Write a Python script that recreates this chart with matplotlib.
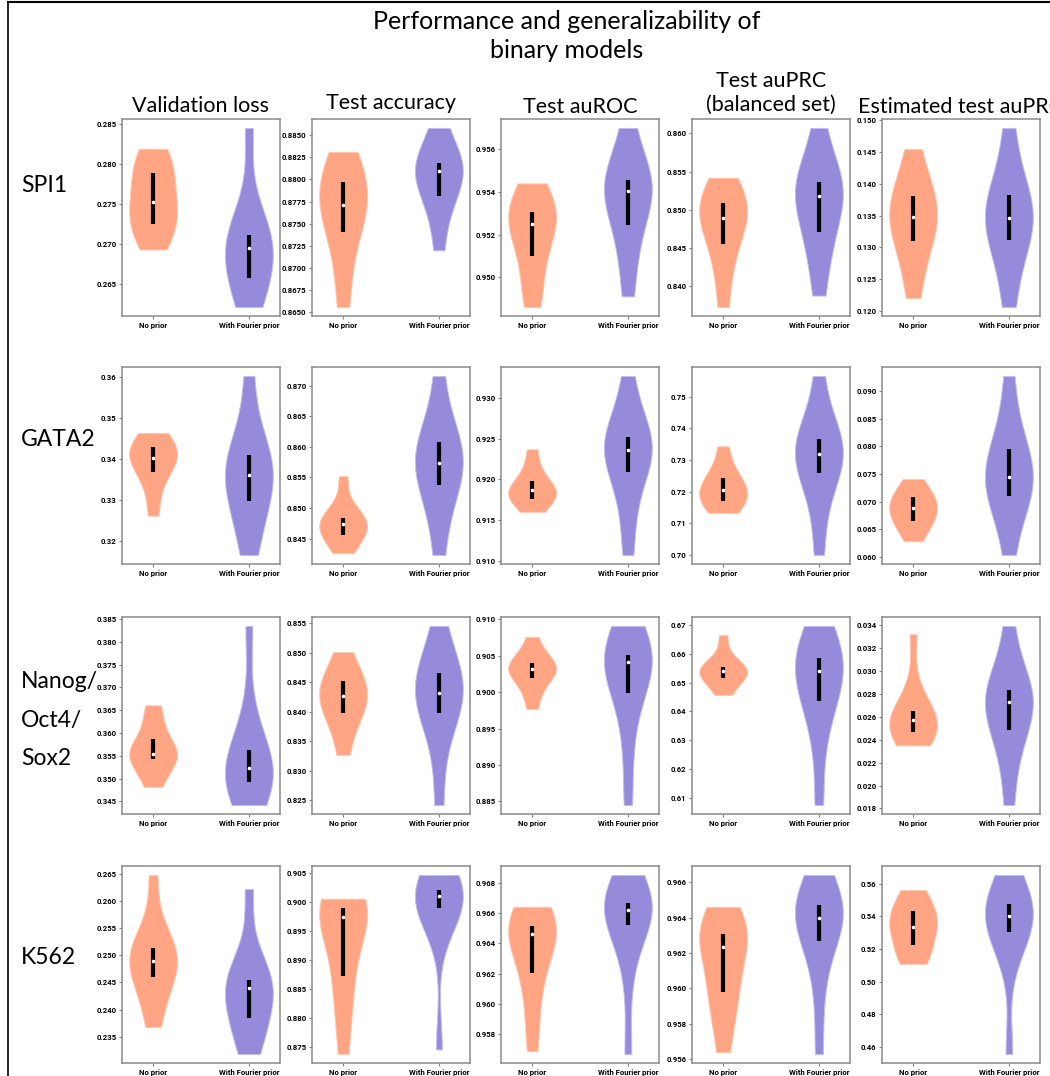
import numpy as np
import matplotlib
matplotlib.use("Agg")
import matplotlib.pyplot as plt
from matplotlib.lines import Line2D

plt.rcParams['font.family'] = ['Roboto', 'DejaVu Sans']
plt.rcParams['font.weight'] = 'bold'

# data: per panel [no prior samples, with Fourier prior samples]
groups = ['No prior', 'With Fourier prior']
metrics = ['Validation loss', 'Test accuracy', 'Test auROC',
           'Test auPRC\n(balanced set)', 'Estimated test auPRC']
datasets = ['SPI1', 'GATA2', 'Nanog/\nOct4/\nSox2', 'K562']

# SPI1
spi1_val_loss = [[0.2693, 0.2712, 0.2722, 0.2735, 0.2748, 0.2758, 0.2778, 0.2792, 0.2805, 0.2819],
                 [0.2621, 0.2638, 0.2652, 0.2675, 0.2690, 0.2700, 0.2706, 0.2713, 0.2745, 0.2845]]
spi1_test_acc = [[0.8656, 0.8700, 0.8737, 0.8753, 0.8765, 0.8778, 0.8790, 0.8800, 0.8815, 0.8831],
                 [0.8720, 0.8760, 0.8778, 0.8790, 0.8805, 0.8813, 0.8816, 0.8819, 0.8840, 0.8858]]
spi1_auroc = [[0.9486, 0.9495, 0.9508, 0.9515, 0.9523, 0.9527, 0.9530, 0.9531, 0.9538, 0.9544],
              [0.9491, 0.9510, 0.9522, 0.9532, 0.9538, 0.9543, 0.9544, 0.9546, 0.9555, 0.9570]]
spi1_auprc_bal = [[0.8373, 0.8420, 0.8450, 0.8470, 0.8485, 0.8495, 0.8505, 0.8511, 0.8525, 0.8542],
                  [0.8388, 0.8440, 0.8465, 0.8490, 0.8513, 0.8523, 0.8533, 0.8538, 0.8560, 0.8607]]
spi1_auprc_est = [[0.1220, 0.1270, 0.1305, 0.1325, 0.1340, 0.1355, 0.1370, 0.1385, 0.1410, 0.1455],
                  [0.1206, 0.1265, 0.1307, 0.1325, 0.1340, 0.1351, 0.1370, 0.1387, 0.1420, 0.1488]]

# GATA2
gata2_val_loss = [[0.3261, 0.3320, 0.3365, 0.3380, 0.3395, 0.3409, 0.3420, 0.3430, 0.3445, 0.3463],
                  [0.3165, 0.3230, 0.3292, 0.3315, 0.3350, 0.3372, 0.3395, 0.3415, 0.3470, 0.3602]]
gata2_test_acc = [[0.8426, 0.8442, 0.8453, 0.8462, 0.8470, 0.8478, 0.8482, 0.8484, 0.8505, 0.8552],
                  [0.8423, 0.8490, 0.8535, 0.8545, 0.8568, 0.8580, 0.8600, 0.8610, 0.8640, 0.8716]]
gata2_auroc = [[0.9160, 0.9170, 0.9175, 0.9180, 0.9185, 0.9188, 0.9192, 0.9200, 0.9215, 0.9237],
               [0.9107, 0.9160, 0.9205, 0.9220, 0.9232, 0.9241, 0.9248, 0.9254, 0.9275, 0.9327]]
gata2_auprc_bal = [[0.7133, 0.7150, 0.7165, 0.7185, 0.7198, 0.7211, 0.7230, 0.7247, 0.7280, 0.7343],
                   [0.7000, 0.7150, 0.7255, 0.7267, 0.7310, 0.7330, 0.7355, 0.7370, 0.7420, 0.7565]]
gata2_auprc_est = [[0.0628, 0.0650, 0.0662, 0.0672, 0.0683, 0.0692, 0.0700, 0.0710, 0.0722, 0.0741],
                   [0.0603, 0.0680, 0.0705, 0.0728, 0.0738, 0.0750, 0.0780, 0.0800, 0.0840, 0.0928]]

# Nanog/Oct4/Sox2
nos_val_loss = [[0.3482, 0.3510, 0.3543, 0.3547, 0.3551, 0.3557, 0.3570, 0.3593, 0.3635, 0.3661],
                [0.3442, 0.3460, 0.3490, 0.3500, 0.3515, 0.3530, 0.3545, 0.3568, 0.3640, 0.3835]]
nos_test_acc = [[0.8327, 0.8370, 0.8395, 0.8405, 0.8420, 0.8432, 0.8443, 0.8455, 0.8470, 0.8501],
                [0.8242, 0.8340, 0.8395, 0.8405, 0.8425, 0.8439, 0.8455, 0.8468, 0.8490, 0.8545]]
nos_auroc = [[0.8977, 0.9000, 0.9018, 0.9024, 0.9030, 0.9034, 0.9038, 0.9041, 0.9052, 0.9076],
             [0.8845, 0.8930, 0.8995, 0.9012, 0.9035, 0.9047, 0.9050, 0.9052, 0.9070, 0.9091]]
nos_auprc_bal = [[0.6457, 0.6490, 0.6510, 0.6527, 0.6538, 0.6544, 0.6550, 0.6557, 0.6590, 0.6665],
                 [0.6074, 0.6300, 0.6432, 0.6450, 0.6520, 0.6558, 0.6575, 0.6587, 0.6640, 0.6697]]
nos_auprc_est = [[0.0235, 0.0240, 0.0245, 0.0250, 0.0254, 0.0260, 0.0262, 0.0266, 0.0285, 0.0332],
                 [0.0183, 0.0225, 0.0245, 0.0258, 0.0270, 0.0276, 0.0280, 0.0284, 0.0300, 0.0339]]

# K562
k562_val_loss = [[0.2368, 0.2410, 0.2457, 0.2468, 0.2482, 0.2497, 0.2508, 0.2515, 0.2545, 0.2648],
                 [0.2318, 0.2350, 0.2378, 0.2400, 0.2433, 0.2448, 0.2450, 0.2455, 0.2490, 0.2622]]
k562_test_acc = [[0.8737, 0.8820, 0.8860, 0.8910, 0.8970, 0.8977, 0.8985, 0.8990, 0.9000, 0.9005],
                 [0.8745, 0.8960, 0.8988, 0.8992, 0.9005, 0.9015, 0.9017, 0.9020, 0.9030, 0.9046]]
k562_auroc = [[0.9569, 0.9595, 0.9617, 0.9630, 0.9643, 0.9649, 0.9650, 0.9652, 0.9657, 0.9664],
              [0.9567, 0.9620, 0.9650, 0.9657, 0.9660, 0.9664, 0.9666, 0.9667, 0.9672, 0.9685]]
k562_auprc_bal = [[0.9564, 0.9585, 0.9597, 0.9601, 0.9618, 0.9629, 0.9630, 0.9631, 0.9636, 0.9646],
                  [0.9563, 0.9600, 0.9624, 0.9635, 0.9638, 0.9641, 0.9645, 0.9648, 0.9653, 0.9664]]
k562_auprc_est = [[0.5108, 0.5150, 0.5200, 0.5290, 0.5320, 0.5352, 0.5400, 0.5445, 0.5500, 0.5561],
                  [0.4557, 0.5150, 0.5300, 0.5325, 0.5390, 0.5418, 0.5450, 0.5480, 0.5540, 0.5653]]

grid = [
    [spi1_val_loss, spi1_test_acc, spi1_auroc, spi1_auprc_bal, spi1_auprc_est],
    [gata2_val_loss, gata2_test_acc, gata2_auroc, gata2_auprc_bal, gata2_auprc_est],
    [nos_val_loss, nos_test_acc, nos_auroc, nos_auprc_bal, nos_auprc_est],
    [k562_val_loss, k562_test_acc, k562_auroc, k562_auprc_bal, k562_auprc_est],
]

colors = ['#FFA584', '#958BDA']
edge_colors = ['#FFC9B3', '#C4BDEE']

W, H = 1050, 1076
fig = plt.figure(figsize=(W / 100, H / 100), dpi=100)

col_left = [122, 312, 501, 692, 882]
row_top = [119, 367, 617, 866]
ax_w, ax_h = 158, 197


def rect(left, top):
    return [left / W, 1 - (top + ax_h) / H, ax_w / W, ax_h / H]


for i, row in enumerate(grid):
    for j, panel in enumerate(row):
        ax = fig.add_axes(rect(col_left[j], row_top[i]))
        parts = ax.violinplot(panel, positions=[1, 2], showextrema=False)
        for body, fc, ec in zip(parts['bodies'], colors, edge_colors):
            body.set_facecolor(fc)
            body.set_edgecolor(ec)
            body.set_linewidth(0.7)
            body.set_alpha(1)
        q1, med, q3 = np.percentile(panel, [25, 50, 75], axis=1)
        ax.vlines([1, 2], q1, q3, color='black', lw=3.0, zorder=3)
        ax.scatter([1, 2], med, marker='o', color='white', s=7, zorder=4, linewidths=0)
        ax.set_xticks([1, 2], groups)
        ax.tick_params(axis='both', length=2.5, width=0.8, color='#808080',
                       labelsize=5.6, pad=1.5, labelcolor='black')
        for sp in ax.spines.values():
            sp.set_color('#8a8a8a')
            sp.set_linewidth(1.1)

title_font = ['Lato', 'DejaVu Sans']

# column titles
title_y = [106, 103, 107, 93, 107]
for j, m in enumerate(metrics):
    fig.text((col_left[j] + ax_w / 2) / W, 1 - title_y[j] / H, m,
             ha='center', va='center', fontsize=15.5, fontweight='normal',
             family=title_font, linespacing=1.25)

# row labels
row_y = [185, 440, 720, 957]
for i, d in enumerate(datasets):
    fig.text(21 / W, 1 - row_y[i] / H, d, ha='left', va='center',
             fontsize=16.5, fontweight='normal', family=title_font,
             linespacing=2.05)

fig.text(567 / W, 1 - 36 / H, 'Performance and generalizability of\nbinary models',
         ha='center', va='center', fontsize=18, fontweight='normal',
         family=title_font, linespacing=1.3)

# screenshot frame lines
fig.add_artist(Line2D([8 / W, 8 / W], [0, 1 - 2 / H], color='black', lw=1.2))
fig.add_artist(Line2D([8 / W, 1], [1 - 2 / H, 1 - 2 / H], color='black', lw=1.5))

fig.savefig('out.png', dpi=100)
